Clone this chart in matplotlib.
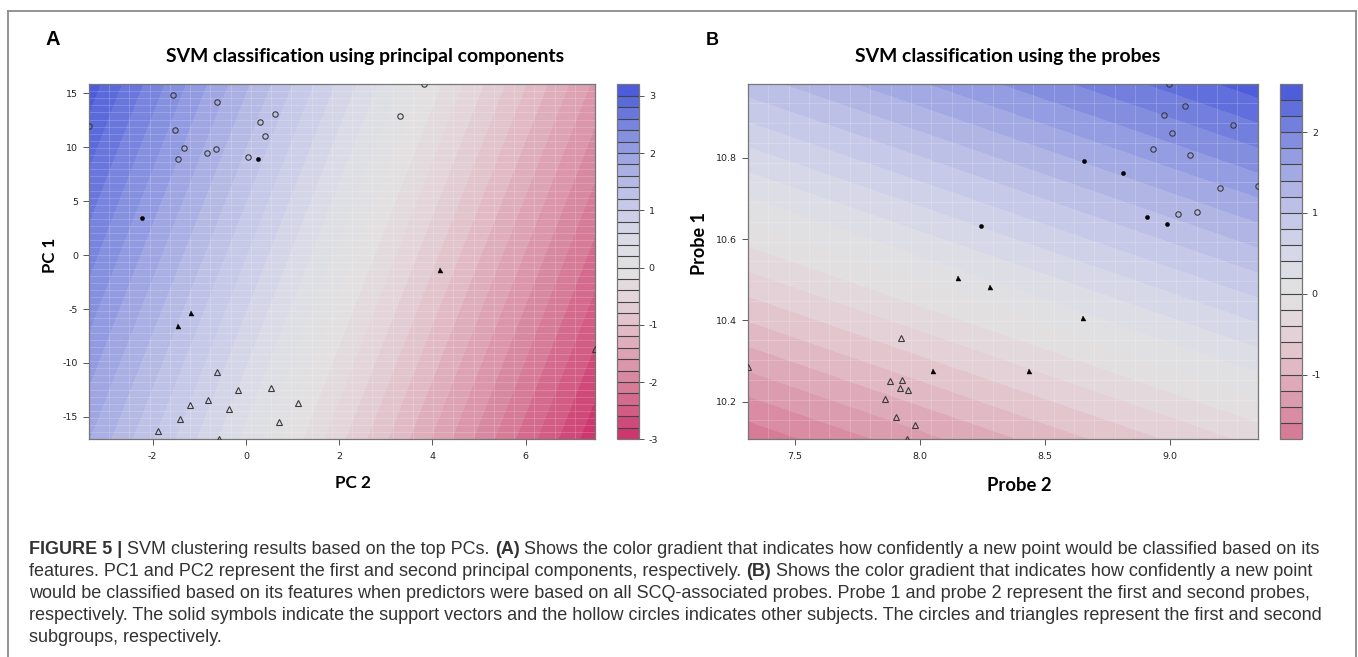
import numpy as np
import matplotlib
matplotlib.use("Agg")
import matplotlib.pyplot as plt
from matplotlib.colors import LinearSegmentedColormap, Normalize
from matplotlib.lines import Line2D
from matplotlib.ticker import FormatStrFormatter

plt.rcParams["axes.unicode_minus"] = False

# ---------------- data: panel A (PC 2 on x, PC 1 on y) ----------------
a_circ_open_pc2 = [-1.556, -0.619, 0.618, 0.310, 0.418, -1.521, -3.366, -1.320, -0.827, -0.648, -1.449, 0.053, 3.315, 3.823]
a_circ_open_pc1 = [14.85, 14.16, 13.11, 12.37, 11.01, 11.57, 12.00, 9.96, 9.49, 9.83, 8.94, 9.06, 12.87, 15.87]
a_circ_sv_pc2 = [0.260, -2.229]
a_circ_sv_pc1 = [8.94, 3.40]
a_tri_sv_pc2 = [-1.185, -1.449, 4.166]
a_tri_sv_pc1 = [-5.38, -6.53, -1.39]
a_tri_open_pc2 = [7.488, -0.619, -0.176, 0.547, 1.126, -1.199, -0.805, -0.355, -1.413, 0.718, -1.893, -0.569]
a_tri_open_pc1 = [-8.66, -10.86, -12.53, -12.34, -13.70, -13.86, -13.39, -14.23, -15.22, -15.50, -16.30, -17.08]
# linear decision function f = w_x * PC2 + w_y * PC1 + b
a_decision_w_x = -0.4376
a_decision_w_y = 0.03945
a_decision_b = 1.001
a_levels_low, a_levels_high = -3.0, 3.2
a_cbar_ticks = [-3, -2, -1, 0, 1, 2, 3]
a_xticks = [-2, 0, 2, 4, 6]
a_yticks = [-15, -10, -5, 0, 5, 10, 15]

# ---------------- data: panel B (Probe 2 on x, Probe 1 on y) ----------------
b_circ_open_x = [8.997, 9.060, 8.977, 9.009, 9.253, 8.932, 9.079, 9.201, 9.351, 9.033, 9.107]
b_circ_open_y = [10.982, 10.926, 10.904, 10.860, 10.879, 10.820, 10.806, 10.726, 10.731, 10.661, 10.666]
b_circ_sv_x = [8.657, 8.811, 8.243, 8.907, 8.989]
b_circ_sv_y = [10.791, 10.761, 10.633, 10.653, 10.636]
b_tri_sv_x = [8.151, 8.281, 8.651, 8.051, 8.436]
b_tri_sv_y = [10.503, 10.482, 10.407, 10.277, 10.277]
b_tri_open_x = [7.311, 7.923, 7.879, 7.927, 7.920, 7.951, 7.859, 7.903, 7.979, 7.949]
b_tri_open_y = [10.286, 10.357, 10.250, 10.254, 10.233, 10.229, 10.207, 10.162, 10.143, 10.108]
b_decision_w_x = 0.69
b_decision_w_y = 3.26
b_decision_b = -39.747
b_levels_low, b_levels_high = -1.8, 2.6
b_cbar_ticks = [-1, 0, 1, 2]
b_xticks = [7.5, 8.0, 8.5, 9.0]
b_yticks = [10.2, 10.4, 10.6, 10.8]

# ---------------- palette (relative to max level) ----------------
pal_pos = [-1.0, -0.906, -0.78, -0.625, -0.47, -0.31, -0.156, 0.0, 0.156, 0.31, 0.47, 0.625, 0.78, 0.969, 1.0]
pal_rgb = [(200, 40, 100), (205, 55, 110), (210, 92, 132), (215, 130, 157), (221, 162, 180),
           (226, 192, 202), (228, 213, 219), (226, 226, 226), (219, 219, 231), (203, 205, 232),
           (182, 187, 229), (154, 162, 226), (122, 134, 222), (78, 94, 218), (70, 86, 216)]
cmap = LinearSegmentedColormap.from_list(
    "svm", [((p + 1) / 2, tuple(c / 255 for c in rgb)) for p, rgb in zip(pal_pos, pal_rgb)])

title_A = "SVM classification using principal components"
title_B = "SVM classification using the probes"
caption_lines = [
    [("FIGURE 5 |", True), ("SVM clustering results based on the top PCs.", False), ("(A)", True),
     ("Shows the color gradient that indicates how confidently a new point would be classified based on its", False)],
    [("features. PC1 and PC2 represent the first and second principal components, respectively.", False), ("(B)", True),
     ("Shows the color gradient that indicates how confidently a new point", False)],
    [("would be classified based on its features when predictors were based on all SCQ-associated probes. Probe 1 and probe 2 represent the first and second probes,", False)],
    [("respectively. The solid symbols indicate the support vectors and the hollow circles indicates other subjects. The circles and triangles represent the first and second", False)],
    [("subgroups, respectively.", False)],
]

W, H = 1358, 657
fig = plt.figure(figsize=(W / 100, H / 100), dpi=100)
fig.patch.set_facecolor("white")
renderer = fig.canvas.get_renderer()


def fx(px):
    return px / W


def fy(py):
    return 1 - py / H


def add_ax(l, r, t, b):
    return fig.add_axes([fx(l), fy(b), (r - l) / W, (b - t) / H])


# outer frame (left, top, right)
for xs, ys in [([8, 8], [10.7, H + 5]), ([8, 1355.7], [10.7, 10.7]), ([1355.7, 1355.7], [10.7, H + 5])]:
    fig.add_artist(Line2D([fx(v) for v in xs], [fy(v) for v in ys], color="#8a8a8a", lw=1.3))

MARK = "#3a3a3a"


def panel(ax, cax, xs_all, ys_all, w_x, w_y, b0, lo, hi, cticks, xticks, yticks, groups, fmt=None,
          grid_nx=25, grid_ny=25):
    xmin, xmax = min(xs_all), max(xs_all)
    ymin, ymax = min(ys_all), max(ys_all)
    gx = np.linspace(xmin, xmax, 400)
    gy = np.linspace(ymin, ymax, 400)
    GX, GY = np.meshgrid(gx, gy)
    Z = w_x * GX + w_y * GY + b0
    nlev = int(round((hi - lo) / 0.2))
    levels = np.linspace(lo, hi, nlev + 1)
    norm = Normalize(-hi, hi)
    cs = ax.contourf(GX, GY, Z, levels=levels, cmap=cmap, norm=norm, extend="neither")
    cs.set_edgecolor("face")
    cs.set_linewidth(0.4)
    # faint raster grid texture of the original rendering
    for v in np.linspace(xmin, xmax, grid_nx + 1)[1:-1]:
        ax.axvline(v, color="white", lw=0.7, alpha=0.18, zorder=2)
    for v in np.linspace(ymin, ymax, grid_ny + 1)[1:-1]:
        ax.axhline(v, color="white", lw=0.7, alpha=0.18, zorder=2)
    for (px, py, marker, ms, filled) in groups:
        if filled:
            ax.plot(px, py, linestyle="none", marker=marker, ms=ms, mfc="black", mec="black", mew=0.3, zorder=5)
        else:
            ax.plot(px, py, linestyle="none", marker=marker, ms=ms, mfc="none", mec=MARK, mew=0.8, zorder=5)
    ax.set_xlim(xmin, xmax)
    ax.set_ylim(ymin, ymax)
    ax.set_xticks(xticks)
    ax.set_yticks(yticks)
    if fmt:
        ax.xaxis.set_major_formatter(FormatStrFormatter(fmt))
        ax.yaxis.set_major_formatter(FormatStrFormatter(fmt))
    ax.tick_params(axis="both", direction="out", length=4.3, width=0.7, colors="#555555",
                   labelcolor="#222222", labelsize=6.8, pad=3.5)
    ax.tick_params(axis="x", pad=4.5)
    for sp in ax.spines.values():
        sp.set_color("#777777")
        sp.set_linewidth(0.9)
    cb = fig.colorbar(cs, cax=cax, ticks=cticks, drawedges=True)
    cb.outline.set_edgecolor("#777777")
    cb.outline.set_linewidth(0.9)
    cb.dividers.set_color("#444444")
    cb.dividers.set_linewidth(0.8)
    cb.ax.tick_params(direction="out", length=3.3, width=0.7, colors="#555555",
                      labelcolor="#222222", labelsize=6.8, pad=4)
    cb.ax.set_yticklabels([str(t) for t in cticks])


axA = add_ax(89, 595, 84, 439.3)
caxA = add_ax(616.7, 638.7, 84.3, 439.3)
axB = add_ax(747.7, 1257.7, 83.5, 439.3)
caxB = add_ax(1280, 1301.7, 83.5, 439.3)

panel(axA, caxA,
      a_circ_open_pc2 + a_circ_sv_pc2 + a_tri_sv_pc2 + a_tri_open_pc2,
      a_circ_open_pc1 + a_circ_sv_pc1 + a_tri_sv_pc1 + a_tri_open_pc1,
      a_decision_w_x, a_decision_w_y, a_decision_b, a_levels_low, a_levels_high,
      a_cbar_ticks, a_xticks, a_yticks,
      [(a_circ_open_pc2, a_circ_open_pc1, "o", 3.9, False),
       (a_circ_sv_pc2, a_circ_sv_pc1, "o", 3.0, True),
       (a_tri_sv_pc2, a_tri_sv_pc1, "^", 3.6, True),
       (a_tri_open_pc2, a_tri_open_pc1, "^", 5.0, False)],
      grid_nx=25, grid_ny=50)

panel(axB, caxB,
      b_circ_open_x + b_circ_sv_x + b_tri_sv_x + b_tri_open_x,
      b_circ_open_y + b_circ_sv_y + b_tri_sv_y + b_tri_open_y,
      b_decision_w_x, b_decision_w_y, b_decision_b, b_levels_low, b_levels_high,
      b_cbar_ticks, b_xticks, b_yticks,
      [(b_circ_open_x, b_circ_open_y, "o", 3.9, False),
       (b_circ_sv_x, b_circ_sv_y, "o", 3.0, True),
       (b_tri_sv_x, b_tri_sv_y, "^", 3.6, True),
       (b_tri_open_x, b_tri_open_y, "^", 5.0, False)],
      fmt="%.1f", grid_nx=25, grid_ny=18)


def fit_text(x, y, s, target, family, weight="bold", rotation=0, ha="center", va="baseline",
             color="black", use_height=False):
    t = fig.text(fx(x), fy(y), s, fontsize=10, family=family, fontweight=weight,
                 rotation=rotation, ha=ha, va=va, color=color)
    bb = t.get_window_extent(renderer)
    cur = bb.height if use_height else bb.width
    t.set_fontsize(10 * target / cur)
    return t


TITLE_FONT = ["Lato", "DejaVu Sans"]
fit_text(365.4, 61.7, title_A, 399, TITLE_FONT)
fit_text(1007.5, 61.7, title_B, 306, TITLE_FONT)
fit_text(353, 488.3, "PC 2", 36, TITLE_FONT)
fit_text(1019, 491, "Probe 2", 65, TITLE_FONT)
fit_text(50, 255.8, "PC 1", 35, TITLE_FONT, rotation=90, va="center", use_height=True)
fit_text(700, 243.3, "Probe 1", 63, TITLE_FONT, rotation=90, va="center", use_height=True)
fit_text(45.7, 45, "A", 14.5, ["Liberation Sans", "DejaVu Sans"], ha="left")
fit_text(706, 45, "B", 13, ["Liberation Sans", "DejaVu Sans"], ha="left")

# caption with mixed bold runs
CAP_FONT = ["Liberation Sans", "DejaVu Sans"]
CAP_COLOR = "#333333"


def width_of(s, size, bold):
    t = fig.text(0, 0, s, fontsize=size, family=CAP_FONT, fontweight="bold" if bold else "normal")
    w = t.get_window_extent(renderer).width
    t.remove()
    return w


base = 12.0
space_w = width_of("a a", base, False) - width_of("aa", base, False)
nat = sum(width_of(s, base, b) for s, b in caption_lines[0]) + space_w * (len(caption_lines[0]) - 1)
cap_size = base * 1290 / nat
space_w = width_of("a a", cap_size, False) - width_of("aa", cap_size, False)

cap_x0 = 29
cap_baseline0 = 554
cap_step = 22
for i, line in enumerate(caption_lines):
    x = cap_x0
    y = cap_baseline0 + i * cap_step
    for s, bold in line:
        t = fig.text(fx(x), fy(y), s, fontsize=cap_size, family=CAP_FONT,
                     fontweight="bold" if bold else "normal", color=CAP_COLOR, ha="left", va="baseline")
        x += t.get_window_extent(renderer).width + space_w

fig.savefig("out.png", dpi=100, facecolor="white")
